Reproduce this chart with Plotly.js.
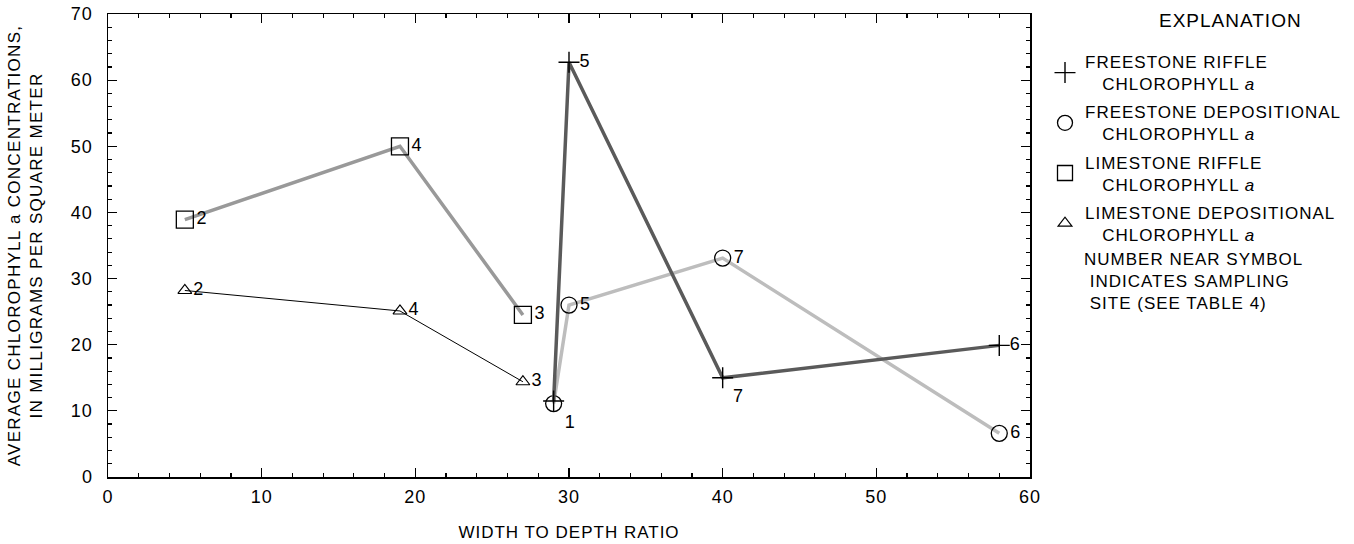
<!DOCTYPE html>
<html><head><meta charset="utf-8">
<script src="https://cdn.plot.ly/plotly-3.0.1.min.js"></script>
<style>
body{margin:0;background:#fff}#chart{width:1354px;height:544px}
svg text{letter-spacing:1px}
svg .ytitle{letter-spacing:1.3px}
</style>
</head><body><div id="chart"></div>
<script>
// Freestone riffle chlorophyll a
const frX = [29, 30, 40, 58];
const frY = [11.5, 62.7, 15.0, 19.9];
const frSites = ['', '5', '7', '6'];
// Freestone depositional chlorophyll a
const fdX = [29, 30, 40, 58];
const fdY = [11.1, 26.0, 33.1, 6.6];
const fdSites = ['1', '5', '7', '6'];
// Limestone riffle chlorophyll a
const lrX = [5, 19, 27];
const lrY = [38.9, 50.0, 24.5];
const lrSites = ['2', '4', '3'];
// Limestone depositional chlorophyll a
const ldX = [5, 19, 27];
const ldY = [28.2, 25.1, 14.4];
const ldSites = ['2', '4', '3'];

const IND = '\u00A0\u00A0\u00A0';
const legendNames = [
  'FREESTONE RIFFLE<br>' + IND + 'CHLOROPHYLL <i>a</i>',
  'FREESTONE DEPOSITIONAL<br>' + IND + 'CHLOROPHYLL <i>a</i>',
  'LIMESTONE RIFFLE<br>' + IND + 'CHLOROPHYLL <i>a</i>',
  'LIMESTONE DEPOSITIONAL<br>' + IND + 'CHLOROPHYLL <i>a</i>'
];
const noteText = 'NUMBER NEAR SYMBOL<br>\u00A0INDICATES SAMPLING<br>\u00A0SITE (SEE TABLE 4)';

const FAM = 'Liberation Sans, Arial, Helvetica, sans-serif';
const font = {family: FAM, size: 17, color: '#000'};
const textFont = {family: FAM, size: 18, color: '#000'};

const traces = [
  {x: ldX, y: ldY, mode: 'lines+markers+text', text: ldSites, textposition: 'middle right', textfont: textFont,
   line: {color: '#000', width: 1},
   marker: {symbol: 'triangle-up-open', size: 12, color: '#000', line: {width: 1.2, color: '#000'}},
   showlegend: false, cliponaxis: false},
  {x: lrX, y: lrY, mode: 'lines+markers+text', text: lrSites, textposition: 'middle right', textfont: textFont,
   line: {color: '#999999', width: 3.5},
   marker: {symbol: 'square-open', size: 17, color: '#000', line: {width: 1.3, color: '#000'}},
   showlegend: false, cliponaxis: false},
  {x: fdX, y: fdY, mode: 'lines+markers+text', text: fdSites, textposition: ['bottom right', 'middle right', 'middle right', 'middle right'], textfont: textFont,
   line: {color: '#bdbdbd', width: 3.5},
   marker: {symbol: 'circle-open', size: 16, color: '#000', line: {width: 1.3, color: '#000'}},
   showlegend: false, cliponaxis: false},
  {x: frX, y: frY, mode: 'lines+markers+text', text: frSites, textposition: ['middle right', 'middle right', 'bottom right', 'middle right'], textfont: textFont,
   line: {color: '#5a5a5a', width: 3.5},
   marker: {symbol: 'cross-thin-open', size: 15, color: '#000', line: {width: 1.4, color: '#000'}},
   showlegend: false, cliponaxis: false},
  // legend entries
  {x: [null], y: [null], mode: 'markers', name: legendNames[0], legendgroup: 'a',
   marker: {symbol: 'cross-thin-open', size: 15, color: '#000', line: {width: 1.4, color: '#000'}}},
  {x: [null], y: [null], mode: 'markers', name: legendNames[1], legendgroup: 'b',
   marker: {symbol: 'circle-open', size: 15, color: '#000', line: {width: 1.3, color: '#000'}}},
  {x: [null], y: [null], mode: 'markers', name: legendNames[2], legendgroup: 'c',
   marker: {symbol: 'square-open', size: 15, color: '#000', line: {width: 1.3, color: '#000'}}},
  {x: [null], y: [null], mode: 'markers', name: legendNames[3], legendgroup: 'd',
   marker: {symbol: 'triangle-up-open', size: 12, color: '#000', line: {width: 1.2, color: '#000'}}}
];

const axisCommon = {
  showgrid: false, zeroline: false, showline: true, linecolor: '#000', linewidth: 1.5,
  mirror: 'ticks', ticks: 'inside', ticklen: 9, tickwidth: 1.2, tickcolor: '#000',
  tickfont: {family: FAM, size: 18, color: '#000'}
};

const px2x = p => (p - 108) / 922;
const px2y = p => (477 - p) / 463;

const layout = {
  width: 1354, height: 544,
  margin: {l: 108, r: 324, t: 14, b: 67, autoexpand: false},
  paper_bgcolor: '#fff', plot_bgcolor: '#fff',
  font: font,
  xaxis: Object.assign({}, axisCommon, {
    range: [0, 60], dtick: 10, tick0: 0, ticklabelstandoff: 3,
    minor: {dtick: 2, ticks: 'inside', ticklen: 4, tickwidth: 1.2, tickcolor: '#000'},
    title: {text: 'WIDTH TO DEPTH RATIO', font: font, standoff: 20}
  }),
  yaxis: Object.assign({}, axisCommon, {
    range: [0, 70], dtick: 10, tick0: 0, ticklabelstandoff: 10,
    minor: {dtick: 2, ticks: 'inside', ticklen: 4, tickwidth: 1.2, tickcolor: '#000'},
    title: {text: 'AVERAGE CHLOROPHYLL a CONCENTRATIONS,<br>IN MILLIGRAMS PER SQUARE METER', font: font, standoff: 24}
  }),
  showlegend: true,
  legend: {
    x: px2x(1045), y: px2y(44), xanchor: 'left', yanchor: 'top',
    font: font, tracegroupgap: 3, valign: 'middle',
    bgcolor: 'rgba(0,0,0,0)', borderwidth: 0
  },
  annotations: [
    {text: 'EXPLANATION', xref: 'paper', yref: 'paper', x: px2x(1230), y: px2y(21), xanchor: 'center', yanchor: 'middle',
     showarrow: false, font: {family: FAM, size: 19, color: '#000'}},
    {text: noteText, xref: 'paper', yref: 'paper', x: px2x(1082), y: px2y(248), xanchor: 'left', yanchor: 'top', align: 'left',
     showarrow: false, font: font}
  ]
};

Plotly.newPlot('chart', traces, layout, {displayModeBar: false, staticPlot: true});
</script></body></html>
